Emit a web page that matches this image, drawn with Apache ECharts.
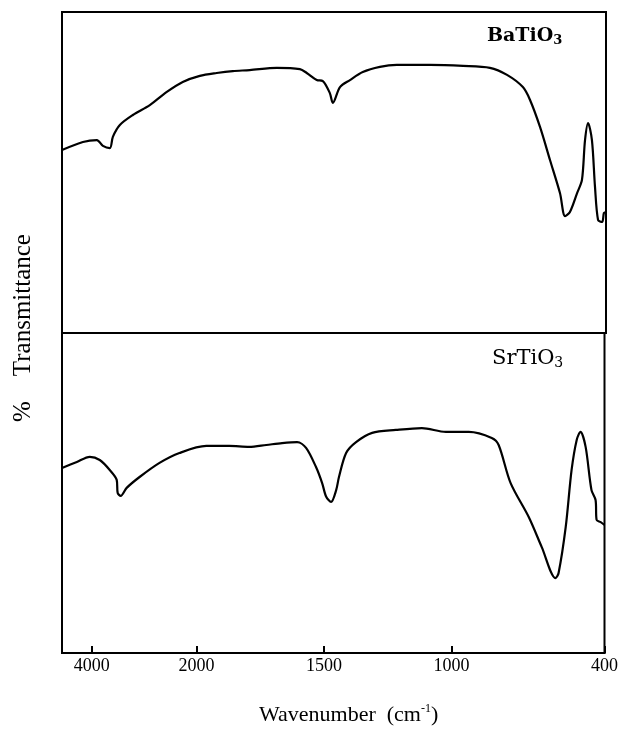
<!DOCTYPE html>
<html>
<head>
<meta charset="utf-8">
<script src="https://cdn.jsdelivr.net/npm/echarts@6/dist/echarts.min.js"></script>
<style>
html,body{margin:0;padding:0;background:#fff;}
#c{width:621px;height:733px;}
</style>
</head>
<body>
<div id="c"></div>
<script>
// Wavenumbers (cm^-1) and % transmittance (arbitrary scale)
var baWave = [4570,4171,3905,3790,3657,3600,3467,3219,2895,2571,2267,1988,1922,1859,1793,1687,1597,1570,1531,1507,1480,1468,1440,1401,1351,1284,1218,1088,959,854,787,725,697,658,619,580,560,541,513,494,482,470,455,443,431,415,408,400];
var baTrans = [57.0,59.5,60.1,58.3,57.6,61.1,64.8,67.9,71.0,75.1,78.2,80.1,81.0,81.6,81.9,82.6,82.2,81.0,78.8,78.5,74.8,71.7,76.6,78.8,81.3,82.9,83.5,83.5,83.2,82.6,80.4,76.6,72.6,64.2,53.9,43.6,36.4,37.7,43.6,47.7,60.1,65.4,60.1,45.5,35.2,34.6,37.4,37.7];

var srWave = [4570,4286,4038,3848,3657,3524,3505,3448,3333,3086,2705,2324,1961,1871,1793,1726,1664,1605,1570,1531,1507,1491,1472,1452,1441,1413,1374,1311,1218,1116,1022,932,842,815,768,697,646,592,580,552,529,509,494,474,451,435,431,415,400];
var srTrans = [57.8,59.7,61.3,60.3,57.2,54.1,50.0,49.1,51.6,55.0,59.4,62.5,64.7,64.7,64.4,65.0,65.6,65.9,64.1,58.1,53.1,48.8,47.2,50.9,55.0,62.5,65.9,68.8,69.7,70.3,69.1,69.1,67.2,65.0,53.1,42.5,33.1,23.4,25.0,39.4,57.2,66.6,69.1,64.4,50.9,47.8,41.6,40.9,40.0];

var tickWaves = [4000, 2000, 1500, 1000, 400];
var seriesNames = ['BaTiO3', 'SrTiO3'];

// Axis scale: linear below 2000 cm^-1, compressed above 2000 cm^-1
var K = 0.205;
function toU(w){ return w <= 2000 ? (2000 - w) : -(w - 2000) * K; }
function fromU(u){ return u >= 0 ? Math.round(2000 - u) : Math.round(2000 - u / K); }
function pts(ws, ts){ return ws.map(function(w,i){ return [toU(w), ts[i]]; }); }

var xMin = toU(4570), xMax = toU(400);
var tickU = tickWaves.map(toU);

var chart = echarts.init(document.getElementById('c'), null, {renderer:'canvas'});
var serif = '"Liberation Serif", "DejaVu Serif", serif';
var wide = '"DejaVu Serif", serif';

chart.setOption({
  backgroundColor: '#ffffff',
  animation: false,
  grid: [
    {left: 62, top: 12, width: 544, height: 321, show: true, borderColor: '#000', borderWidth: 2, backgroundColor: 'transparent'},
    {left: 62, top: 333, width: 544, height: 320, show: true, borderColor: '#000', borderWidth: 2, backgroundColor: 'transparent'}
  ],
  xAxis: [
    {type: 'value', gridIndex: 0, min: xMin, max: xMax, show: false},
    {type: 'value', gridIndex: 1, min: xMin, max: xMax,
     axisLine: {show: true, lineStyle: {color: '#000', width: 2}},
     splitLine: {show: false},
     axisTick: {show: true, inside: true, length: 7, lineStyle: {color: '#000', width: 2}, customValues: tickU},
     axisLabel: {show: true, margin: 4, color: '#000', fontFamily: serif, fontSize: 18, customValues: tickU,
       formatter: function(v){ return String(fromU(v)); }}}
  ],
  yAxis: [
    {type: 'value', gridIndex: 0, min: 0, max: 100, show: false},
    {type: 'value', gridIndex: 1, min: 0, max: 100, show: false}
  ],
  series: [
    {name: seriesNames[0], type: 'line', xAxisIndex: 0, yAxisIndex: 0, data: pts(baWave, baTrans),
     showSymbol: false, smooth: 0.3, lineStyle: {color: '#000', width: 2.2}},
    {name: seriesNames[1], type: 'line', xAxisIndex: 1, yAxisIndex: 1, data: pts(srWave, srTrans),
     showSymbol: false, smooth: 0.3, lineStyle: {color: '#000', width: 2.2}}
  ],
  graphic: [
    {type: 'text', left: 487, top: 27, style: {
      text: '{m|BaTiO}{s|3}', rich: {
        m: {fontFamily: wide, fontSize: 19, fontWeight: 'bold', fill: '#000'},
        s: {fontFamily: wide, fontSize: 13, fontWeight: 'bold', fill: '#000', padding: [8,0,0,0]}
      }}},
    {type: 'text', left: 492, top: 348, style: {
      text: '{m|SrTiO}{s|3}', rich: {
        m: {fontFamily: wide, fontSize: 21, fill: '#000'},
        s: {fontFamily: wide, fontSize: 14, fill: '#000', padding: [9,0,0,0]}
      }}},
    {type: 'text', left: 259, top: 703, style: {
      text: '{m|Wavenumber  (cm}{p|-1}{m|)}', rich: {
        m: {fontFamily: serif, fontSize: 22, fill: '#000'},
        p: {fontFamily: serif, fontSize: 12, fill: '#000', padding: [0,0,13,0]}
      }}},
    {type: 'text', x: 23, y: 328, rotation: Math.PI/2, style: {
      text: '%    Transmittance', fontFamily: serif, fontSize: 25, fill: '#000',
      align: 'center', verticalAlign: 'middle'}}
  ]
});
</script>
</body>
</html>
